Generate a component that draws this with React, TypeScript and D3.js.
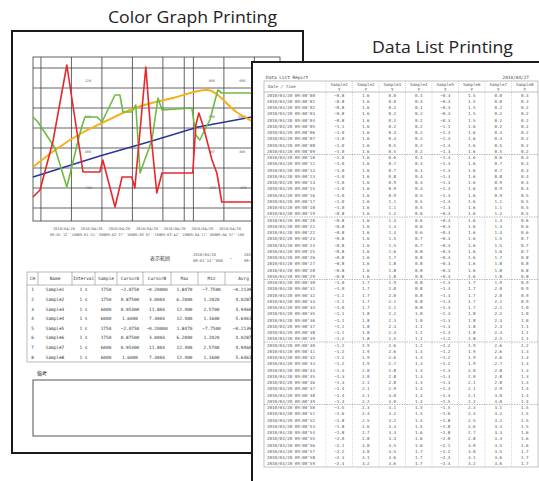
import * as d3 from "d3";

const W = 539;
const H = 481;

// ---- Color Graph page: traces as [grid step, level] ----
const redTrace: [number, number][] = [
  [-0.26, -3.45], [-0.03, -3.1], [0.39, -0.7], [0.85, 3.15], [1.38, -2.2], [1.93, -2.2],
  [2.03, -1.6], [2.43, -3.95], [2.66, -2.45], [2.98, -2.45], [3.08, -3.0], [3.44, 3.05],
  [3.61, -0.35], [3.8, -3.25], [3.97, -2.25], [4.98, -2.25], [5.08, 0.15], [5.18, 0.75],
  [5.31, 0.15], [5.44, -0.6], [5.61, -1.6], [5.77, -2.25], [5.93, -3.7], [7.84, -3.7],
];
const greenTrace: [number, number][] = [
  [-0.26, 0.55], [-0.1, 0.3], [0.46, -1.0], [0.85, -2.95], [1.28, -0.25], [1.44, 0.55],
  [1.84, 0.55], [2.0, 0.3], [2.43, 1.65], [2.59, 1.65], [2.69, 0.8], [2.98, 0.8],
  [3.11, 1.15], [3.25, -2.25], [3.64, -0.6], [3.84, 1.5], [3.97, 0.9], [4.95, 1.0],
  [5.08, -0.35], [5.21, -0.6], [5.34, -0.2], [5.54, 0.4], [5.8, 1.9], [5.93, 1.75], [7.84, 1.75],
];
const orangeTrace: [number, number][] = [
  [-0.26, -1.95], [0.56, -1.0], [1.34, -0.25], [2.0, 0.25], [3.08, 1.0],
  [4.33, 1.5], [5.44, 1.9], [6.46, 0.75], [7.84, -0.35],
];
const blueTrace: [number, number][] = [
  [-0.26, -2.45], [1.93, -1.4], [3.64, -0.65], [5.15, 0.05], [6.92, 0.55], [7.84, 0.85],
];

const timeTicks = [0, 1, 2, 3, 4, 4.7, 5, 6, 7];
const levelTicks = [-4, -3, -2, -1, 0, 1, 2, 3];
const axisDates = ["2010/04/20", "2010/04/20", "2010/04/20", "2010/04/20", "2010/04/20", "2010/04/20", "2010/04/20"];
const axisTimes = ["09:01'12''100", "09:01'51''000", "09:02'27''100", "09:03'07''100", "09:03'42''100", "09:04'17''000", "09:04'57''100"];

const alarmSteps = [1.54, 5.6, 6.6];
const alarmLevels = [2.3, 0.5, -1.25, -3.05];
const alarmTexts = [
  ["120", "660", "660"],
  ["500", "500", "5000"],
  ["400", "407", "408"],
  ["-204", "-459", "-459"],
];

// summary table
const tableHeads = ["CH", "Name", "Interval", "Sample", "CursorA", "CursorB", "Max", "Min", "Avrg"];
const chNames = ["Sample1", "Sample2", "Sample3", "Sample4", "Sample5", "Sample6", "Sample7", "Sample8"];
const intervals = ["1 s", "1 s", "1 s", "1 s", "1 s", "1 s", "1 s", "1 s"];
const sampleCounts = [1750, 1750, 6000, 6000, 1750, 1750, 6000, 6000];
const cursorA = [-2.075, 0.875, 0.953, 1.6, -2.075, 0.875, 0.953, 1.6];
const cursorB = [-0.2, 3.0003, 11.803, 7.3003, -0.2, 3.0003, 11.803, 7.3003];
const maxVals = [1.847, 6.2, 12.4, 12.4, 1.847, 6.2, 12.4, 12.4];
const minVals = [-7.75, 1.202, 2.57, 1.16, -7.75, 1.202, 2.57, 1.16];
const avrgVals = [-0.2139, 4.0287, 4.946, 5.6461, -0.2139, 4.0287, 4.946, 5.6461];
const colEdges = [27, 38, 72, 95, 117, 143, 171, 198, 225, 262];

// ---- Data List page ----
const sample1 = [
  -0.8, -0.8, -0.8, -0.8, -0.8, -1.1, -1.0, -1.0, -1.0, -1.0,
  -1.0, -1.0, -1.0, -1.0, -1.0, -1.0, -1.0, -1.0, -1.0, -0.8,
  -0.8, -0.8, -0.8, -0.8, -0.8, -0.8, -0.8, -0.8, -0.8, -0.8,
  -1.0, -1.0, -1.1, -1.1, -1.0, -1.1, -1.1, -1.1, -1.1, -1.2,
  -1.2, -1.2, -1.2, -1.2, -1.3, -1.3, -1.3, -1.4, -1.4, -1.4,
  -1.5, -1.6, -1.8, -1.8, -1.8, -2.0, -2.1, -2.2, -2.3, -2.4,
];
const sample2 = [
  1.6, 1.6, 1.6, 1.6, 1.6, 1.6, 1.6, 1.6, 1.6, 1.6,
  1.6, 1.6, 1.6, 1.6, 1.6, 1.6, 1.6, 1.6, 1.6, 1.6,
  1.6, 1.6, 1.6, 1.6, 1.6, 1.6, 1.6, 1.6, 1.6, 1.6,
  1.7, 1.7, 1.7, 1.7, 1.7, 1.8, 1.8, 1.8, 1.8, 1.8,
  1.9, 1.9, 1.9, 1.9, 2.0, 2.0, 2.1, 2.1, 2.1, 2.2,
  2.3, 2.4, 2.5, 2.6, 2.7, 2.8, 3.0, 3.0, 3.1, 3.2,
];
const sample3 = [
  0.0, 0.0, 0.2, 0.2, 0.2, 0.2, 0.3, 0.4, 0.5, 0.5,
  0.6, 0.7, 0.7, 0.8, 0.9, 0.9, 0.9, 1.1, 1.1, 1.2,
  1.3, 1.3, 1.4, 1.5, 1.5, 1.6, 1.7, 1.8, 1.8, 1.8,
  1.9, 2.0, 2.0, 2.1, 2.1, 2.2, 2.3, 2.3, 2.4, 2.5,
  2.6, 2.6, 2.6, 2.7, 2.8, 2.8, 2.8, 2.9, 3.0, 3.0,
  3.1, 3.2, 3.2, 3.3, 3.3, 3.4, 3.5, 3.5, 3.6, 3.6,
];
const sample4 = [
  0.4, 0.4, 0.1, 0.2, 0.2, 0.2, 0.2, 0.2, 0.2, 0.2,
  0.3, 0.3, 0.3, 0.4, 0.4, 0.4, 0.5, 0.5, 0.5, 0.6,
  0.6, 0.6, 0.6, 0.7, 0.7, 0.8, 0.8, 0.8, 0.8, 0.8,
  0.8, 0.8, 0.8, 0.8, 0.8, 1.0, 1.0, 1.1, 1.1, 1.1,
  1.2, 1.3, 1.3, 1.3, 1.3, 1.3, 1.3, 1.4, 1.4, 1.4,
  1.5, 1.5, 1.5, 1.5, 1.6, 1.6, 1.6, 1.7, 1.7, 1.7,
];
const sample5 = [
  -0.3, -0.3, -0.3, -0.3, -0.3, -1.1, -1.3, -1.3, -1.3, -1.3,
  -1.3, -1.3, -1.3, -1.3, -1.3, -1.3, -1.3, -1.3, -1.3, -0.3,
  -0.3, -0.3, -0.3, -0.3, -0.3, -0.3, -0.3, -0.3, -0.3, -0.3,
  -1.3, -1.3, -1.3, -1.3, -1.3, -1.3, -1.3, -1.3, -1.3, -1.2,
  -1.2, -1.2, -1.2, -1.2, -1.3, -1.3, -1.3, -1.4, -1.4, -1.5,
  -1.5, -1.6, -1.8, -1.8, -1.8, -2.0, -2.1, -2.2, -2.3, -2.4,
];
const sample6 = [
  1.5, 1.5, 1.5, 1.5, 1.5, 1.6, 1.6, 1.6, 1.6, 1.6,
  1.6, 1.6, 1.6, 1.6, 1.6, 1.6, 1.6, 1.6, 1.6, 1.6,
  1.6, 1.6, 1.6, 1.6, 1.6, 1.6, 1.6, 1.6, 1.6, 1.6,
  1.7, 1.7, 1.7, 1.7, 1.7, 1.8, 1.8, 1.8, 1.8, 1.8,
  1.9, 1.9, 1.9, 1.9, 2.0, 2.0, 2.1, 2.1, 2.1, 2.2,
  2.3, 2.4, 2.5, 2.6, 2.7, 2.8, 3.0, 3.0, 3.1, 3.2,
];
const sample7 = [
  0.0, 0.0, 0.2, 0.2, 0.2, 0.2, 0.3, 0.4, 0.5, 0.5,
  0.6, 0.7, 0.7, 0.8, 0.9, 0.9, 0.9, 1.1, 1.1, 1.2,
  1.3, 1.3, 1.4, 1.5, 1.5, 1.6, 1.7, 1.8, 1.8, 1.8,
  1.9, 2.0, 2.0, 2.1, 2.1, 2.2, 2.3, 2.3, 2.4, 2.5,
  2.6, 2.6, 2.6, 2.7, 2.8, 2.8, 2.8, 2.9, 3.0, 3.0,
  3.1, 3.2, 3.2, 3.3, 3.3, 3.4, 3.5, 3.5, 3.6, 3.6,
];
const sample8 = [
  0.3, 0.3, 0.2, 0.2, 0.2, 0.2, 0.2, 0.2, 0.2, 0.2,
  0.3, 0.3, 0.3, 0.4, 0.4, 0.4, 0.5, 0.5, 0.5, 0.5,
  0.6, 0.6, 0.6, 0.7, 0.7, 0.7, 0.8, 0.8, 0.8, 0.8,
  0.9, 0.9, 0.9, 0.9, 1.0, 1.0, 1.0, 1.1, 1.1, 1.1,
  1.2, 1.3, 1.3, 1.3, 1.3, 1.3, 1.3, 1.4, 1.4, 1.4,
  1.5, 1.5, 1.5, 1.5, 1.6, 1.6, 1.6, 1.7, 1.7, 1.7,
];
const listColumns = [sample1, sample2, sample3, sample4, sample5, sample6, sample7, sample8];
const listStart = new Date(2010, 3, 20, 9, 0, 0);

const MONO = "'DejaVu Sans Mono', 'Liberation Mono', monospace";
const JP = "'Noto Sans CJK JP', sans-serif";

export default function App() {
  const x = d3.scaleLinear().domain([-0.26, 7.84]).range([33, 280]);
  const y = d3.scaleLinear().domain([-4.65, 3.55]).range([221, 57]);
  const trace = d3.line<[number, number]>().x((d) => x(d[0])).y((d) => y(d[1]));
  const smooth = d3
    .line<[number, number]>()
    .x((d) => x(d[0]))
    .y((d) => y(d[1]))
    .curve(d3.curveMonotoneX);
  const labelX = d3.scalePoint<number>().domain(d3.range(axisDates.length)).range([64, 230]);

  const rowY = d3.scaleBand<number>().domain(d3.range(8)).range([285, 362]);
  const fmt5 = d3.format(".5r");
  const tableRows = chNames.map((n, i) => [
    String(i + 1), n, intervals[i], String(sampleCounts[i]),
    fmt5(cursorA[i]), fmt5(cursorB[i]), fmt5(maxVals[i]), fmt5(minVals[i]), fmt5(avrgVals[i]),
  ]);

  const fmtTime = d3.timeFormat("%Y/%m/%d %H:%M'%S");
  const listTimes = sample1.map((_, i) => fmtTime(d3.timeSecond.offset(listStart, i)));
  const listY = d3.scaleBand<number>().domain(d3.range(sample1.length)).range([92, 467]);
  const listX = d3.scaleBand<number>().domain(d3.range(8)).range([326, 538]);
  const fmt1 = d3.format(".1f");

  return (
    <div style={{ position: "absolute", left: 0, top: 0 }}>
      <svg width={W} height={H} viewBox={`0 0 ${W} ${H}`} style={{ display: "block", background: "#fff" }}>
        <defs>
          <clipPath id="leftPage">
            <rect x={12} y={31} width={240} height={422} />
          </clipPath>
        </defs>
        {/* left page */}
        <rect x={12} y={31} width={291} height={422} fill="#fff" stroke="#1a1a1a" strokeWidth={2} />
        <g stroke="#3c3c3c" strokeWidth={0.8}>
          {timeTicks.map((t) => (
            <line key={"v" + t} x1={x(t)} x2={x(t)} y1={57} y2={221} />
          ))}
          {levelTicks.map((v) => (
            <line key={"h" + v} x1={33} x2={280} y1={y(v)} y2={y(v)} />
          ))}
          <rect x={33} y={57} width={247} height={164} fill="none" />
        </g>
        <g fontFamily={MONO} fontSize={3.4} fill="#666" textAnchor="middle">
          {alarmLevels.map((lv, r) =>
            alarmSteps.map((st, c) => (
              <text key={r + "-" + c} x={x(st)} y={y(lv)}>
                {alarmTexts[r][c]}
              </text>
            ))
          )}
        </g>
        <path d={trace(blueTrace) || ""} fill="none" stroke="#27359a" strokeWidth={1.4} />
        <path d={smooth(orangeTrace) || ""} fill="none" stroke="#f4b016" strokeWidth={2} />
        <path d={trace(greenTrace) || ""} fill="none" stroke="#6cbd3f" strokeWidth={1.6} strokeLinejoin="round" />
        <path d={trace(redTrace) || ""} fill="none" stroke="#e9262c" strokeWidth={1.6} strokeLinejoin="round" />
        <g fontFamily={MONO} fontSize={3.6} fill="#555" textAnchor="middle">
          {axisDates.map((d, i) => (
            <g key={i}>
              <text x={labelX(i)} y={230}>{d}</text>
              <text x={labelX(i)} y={235.5}>{axisTimes[i]}</text>
            </g>
          ))}
        </g>
        <text x={150} y={260} fontFamily={JP} fontSize={5} fill="#444">表示範囲</text>
        <g fontFamily={MONO} fontSize={3.8} fill="#555" clipPath="url(#leftPage)">
          <text x={193} y={256}>2010/04/20</text>
          <text x={193} y={262}>09:01'14''000</text>
          <text x={230} y={260}>~</text>
          <text x={244} y={256}>2010/0</text>
          <text x={244} y={262}>09:05'</text>
        </g>
        {/* summary table */}
        <g stroke="#8a8a8a" strokeWidth={0.6} fill="none">
          <rect x={27} y={272} width={235} height={90} />
          <line x1={27} x2={262} y1={285} y2={285} />
          {colEdges.slice(1, -1).map((e) => (
            <line key={e} x1={e} x2={e} y1={272} y2={285} />
          ))}
        </g>
        <g fontFamily={MONO} fontSize={4.4} fill="#333" textAnchor="middle" clipPath="url(#leftPage)">
          {tableHeads.map((h, i) => (
            <text key={h} x={(colEdges[i] + colEdges[i + 1]) / 2} y={280}>{h}</text>
          ))}
          {tableRows.map((row, r) =>
            row.map((cell, c) => (
              <text key={r + "-" + c} x={(colEdges[c] + colEdges[c + 1]) / 2} y={(rowY(r) || 0) + rowY.bandwidth() / 2 + 1.5}>
                {cell}
              </text>
            ))
          )}
        </g>
        <text x={37} y={375} fontFamily={JP} fontSize={5} fill="#333">備考</text>
        <rect x={33} y={380} width={230} height={56} fill="none" stroke="#555" strokeWidth={1} />

        {/* right page */}
        <rect x={252} y={62} width={300} height={430} fill="#fff" stroke="#1a1a1a" strokeWidth={2} />
        <text x={266} y={79} fontFamily={MONO} fontSize={4.4} fill="#444">Data List Report</text>
        <text x={529} y={79} fontFamily={MONO} fontSize={4.4} fill="#444" textAnchor="end">2010/04/27</text>
        <g fill="none" stroke="#999" strokeWidth={0.6}>
          <rect x={264} y={81} width={274} height={386} />
          <line x1={264} x2={538} y1={92} y2={92} />
        </g>
        <g stroke="#aaa" strokeWidth={0.5} strokeDasharray="1,1">
          <line x1={326} x2={326} y1={81} y2={467} />
          {listColumns.slice(1).map((_, i) => (
            <line key={i} x1={listX(i + 1)} x2={listX(i + 1)} y1={81} y2={467} />
          ))}
        </g>
        <g stroke="#777" strokeWidth={0.5} strokeDasharray="1.5,1">
          {d3.range(10, sample1.length, 10).map((r) => (
            <line key={r} x1={264} x2={538} y1={listY(r)} y2={listY(r)} />
          ))}
        </g>
        <g fontFamily={MONO} fontSize={4.2} fill="#555">
          <text x={268} y={88}>Date / Time</text>
          {listColumns.map((_, i) => (
            <g key={i} textAnchor="middle">
              <text x={(listX(i) || 0) + listX.bandwidth() / 2} y={85.5}>{"Sample" + (i + 1)}</text>
              <text x={(listX(i) || 0) + listX.bandwidth() / 2} y={90.5}>Y</text>
            </g>
          ))}
          {listTimes.map((tm, r) => (
            <text key={"t" + r} x={267} y={(listY(r) || 0) + 4.6}>{tm}</text>
          ))}
          {listColumns.map((col, c) =>
            col.map((v, r) => (
              <text
                key={c + "-" + r}
                x={(listX(c) || 0) + listX.bandwidth() / 2}
                y={(listY(r) || 0) + 4.6}
                textAnchor="middle"
              >
                {fmt1(v)}
              </text>
            ))
          )}
        </g>

        {/* titles */}
        <text x={108} y={23} fontFamily="'Open Sans', sans-serif" fontSize={16.5} fill="#222" textLength={169} lengthAdjust="spacingAndGlyphs">
          Color Graph Printing
        </text>
        <text x={372} y={53} fontFamily="'Open Sans', sans-serif" fontSize={16.5} fill="#222" textLength={141} lengthAdjust="spacingAndGlyphs">
          Data List Printing
        </text>
      </svg>
    </div>
  );
}
